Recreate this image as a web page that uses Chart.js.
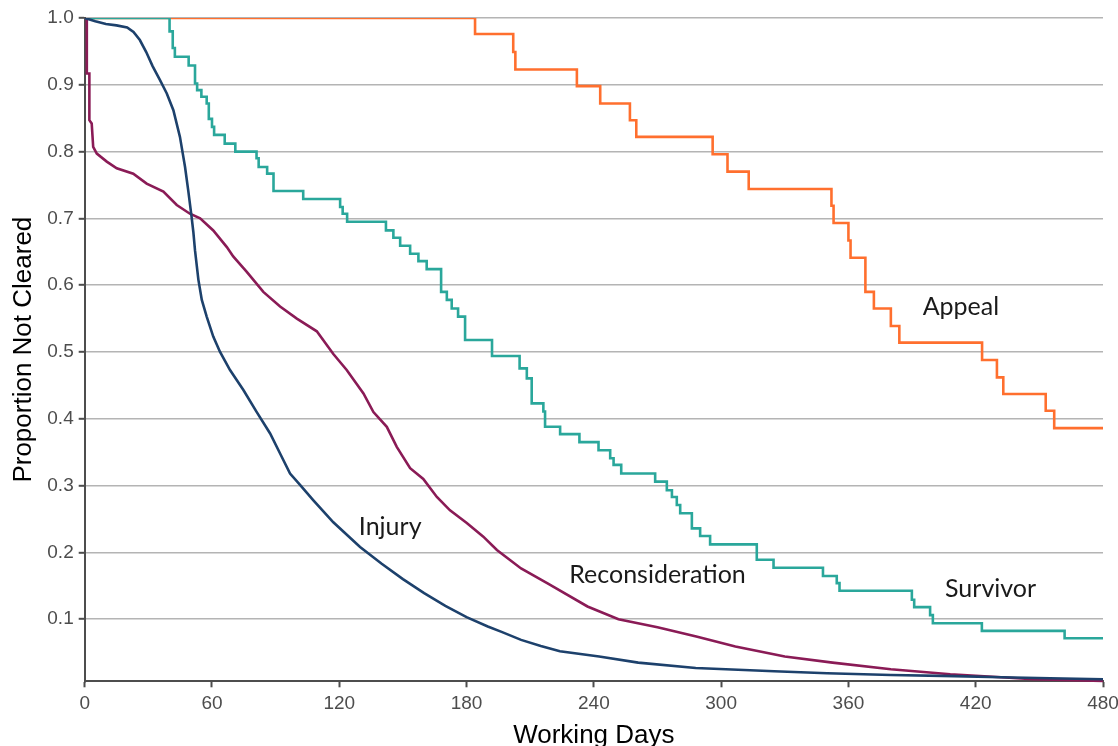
<!DOCTYPE html>
<html>
<head>
<meta charset="utf-8">
<script src="https://cdn.jsdelivr.net/npm/chart.js@4/dist/chart.umd.min.js"></script>
<style>
  html, body { margin: 0; padding: 0; background: #ffffff; }
  #wrap { width: 1118px; height: 746px; position: relative; }
</style>
</head>
<body>
<div id="wrap"><canvas id="c" width="1118" height="746"></canvas></div>
<script>
// ---- Data ----
const xTicks = [0, 60, 120, 180, 240, 300, 360, 420, 480];
const yTicks = [0.1, 0.2, 0.3, 0.4, 0.5, 0.6, 0.7, 0.8, 0.9, 1.0];

const injuryDays = [0, 5, 10, 15, 20, 23, 26, 29, 32, 35.5, 38.7, 41.8, 44.9, 47.3, 48.8, 50.4, 51.2, 52, 53.6, 55.2, 57.5, 60.6, 63.8, 68.5, 74.8, 81.1, 87.4, 92.1, 96.8, 101.5, 107.8, 117.2, 129.8, 140, 150, 160, 170, 180, 190, 196.5, 205.7, 215, 224, 242.5, 260.9, 288, 325, 350, 380, 410, 432, 455, 480];
const injuryVals = [1.0, 0.995, 0.991, 0.989, 0.986, 0.979, 0.967, 0.949, 0.928, 0.907, 0.887, 0.862, 0.822, 0.777, 0.742, 0.702, 0.68, 0.652, 0.608, 0.578, 0.553, 0.523, 0.50, 0.473, 0.443, 0.41, 0.378, 0.348, 0.318, 0.301, 0.278, 0.245, 0.208, 0.183, 0.160, 0.139, 0.120, 0.103, 0.089, 0.081, 0.069, 0.060, 0.052, 0.044, 0.035, 0.027, 0.022, 0.019, 0.0165, 0.0148, 0.013, 0.0115, 0.010];

const reconDays = [0, 1, 1, 2.2, 2.2, 3.3, 4, 5.7, 10.4, 15.1, 22.9, 29.2, 37.1, 43.4, 49.6, 54.4, 60.6, 67, 70, 76.4, 84.2, 92.1, 100, 109.4, 117.2, 123.5, 131.4, 136.1, 142.4, 147.1, 153.4, 159.6, 166, 172.2, 180.1, 187.9, 194.3, 205.7, 218.6, 237, 251.6, 270, 288.3, 306.7, 330, 352.5, 380, 408, 432, 447, 480];
const reconVals = [1.0, 1.0, 0.917, 0.917, 0.847, 0.842, 0.807, 0.797, 0.785, 0.775, 0.767, 0.752, 0.74, 0.72, 0.707, 0.70, 0.682, 0.657, 0.643, 0.62, 0.59, 0.568, 0.55, 0.531, 0.497, 0.473, 0.438, 0.41, 0.388, 0.358, 0.326, 0.310, 0.283, 0.263, 0.244, 0.2235, 0.2035, 0.176, 0.153, 0.119, 0.10, 0.088, 0.074, 0.059, 0.044, 0.035, 0.025, 0.0175, 0.013, 0.010, 0.0075];

const survivorDays = [0, 40, 41.5, 42.5, 49, 52, 53, 55, 57.5, 58.5, 60, 61, 66, 71, 81, 82, 86, 89, 103, 120.4, 121.6, 123.7, 142, 145.5, 148.7, 153.4, 157.3, 161.2, 168, 170.7, 173, 176, 179.3, 192, 205, 208.4, 210.7, 216.2, 217, 224.1, 233.2, 242.2, 247.7, 249.3, 252.9, 268.9, 274.4, 276.8, 279.1, 280.7, 286.2, 290.1, 294.8, 316.8, 324.7, 348, 354.5, 355.8, 389.9, 391, 398.5, 399.8, 422.9, 461.9, 480];
const survivorVals = [1.0, 0.98, 0.955, 0.942, 0.929, 0.902, 0.892, 0.882, 0.872, 0.849, 0.837, 0.825, 0.812, 0.80, 0.79, 0.777, 0.767, 0.741, 0.729, 0.717, 0.707, 0.695, 0.682, 0.671, 0.659, 0.647, 0.636, 0.624, 0.59, 0.578, 0.565, 0.553, 0.518, 0.494, 0.4755, 0.4605, 0.423, 0.411, 0.388, 0.377, 0.365, 0.353, 0.341, 0.331, 0.318, 0.306, 0.293, 0.283, 0.271, 0.2585, 0.236, 0.2245, 0.212, 0.189, 0.177, 0.1646, 0.154, 0.1425, 0.129, 0.118, 0.106, 0.094, 0.0825, 0.0715, 0.0715];

const appealDays = [0, 184, 202, 203, 232, 243, 257, 260, 296, 303, 313, 352, 353, 360, 361, 368, 372, 380, 384, 423, 430, 433, 453, 457, 480];
const appealVals = [1.0, 0.976, 0.949, 0.923, 0.898, 0.872, 0.847, 0.822, 0.796, 0.770, 0.744, 0.719, 0.693, 0.667, 0.641, 0.590, 0.565, 0.539, 0.514, 0.488, 0.462, 0.437, 0.412, 0.386, 0.386];

const seriesNames = ['Injury', 'Reconsideration', 'Survivor', 'Appeal'];
// label anchor positions (data units)
const labelDays = [144, 270, 427, 413];
const labelVals = [0.238, 0.166, 0.145, 0.567];

// ---- Build ----
const toXY = (xs, ys) => xs.map((x, i) => ({ x: x, y: ys[i] }));
const colors = { Injury: '#1d416c', Reconsideration: '#8a1b56', Survivor: '#2aa79b', Appeal: '#ff6f2e' };

const lineClip = { left: 3, top: 0, right: 3, bottom: 3 };

const labelPlugin = {
  id: 'seriesLabels',
  afterDatasetsDraw(chart) {
    const { ctx, scales } = chart;
    ctx.save();
    ctx.font = '25px Lato, "Open Sans", sans-serif';
    ctx.fillStyle = '#1a1a1a';
    ctx.textAlign = 'center';
    ctx.textBaseline = 'middle';
    seriesNames.forEach((n, i) => {
      ctx.fillText(n, scales.x.getPixelForValue(labelDays[i]), scales.y.getPixelForValue(labelVals[i]));
    });
    // axis titles
    const ca = chart.chartArea;
    ctx.font = '26px "Liberation Sans", Arial, sans-serif';
    ctx.fillStyle = '#000000';
    ctx.textBaseline = 'alphabetic';
    ctx.fillText('Working Days', (ca.left + ca.right) / 2, 743);
    ctx.translate(31, (ca.top + ca.bottom) / 2);
    ctx.rotate(-Math.PI / 2);
    ctx.fillText('Proportion Not Cleared', 0, 0);
    ctx.restore();
  }
};

new Chart(document.getElementById('c'), {
  type: 'line',
  data: {
    datasets: [
      { label: 'Injury', data: toXY(injuryDays, injuryVals), borderColor: colors.Injury, borderWidth: 2.6, pointRadius: 0, tension: 0, clip: lineClip },
      { label: 'Reconsideration', data: toXY(reconDays, reconVals), borderColor: colors.Reconsideration, borderWidth: 2.6, pointRadius: 0, tension: 0, clip: lineClip },
      { label: 'Survivor', data: toXY(survivorDays, survivorVals), borderColor: colors.Survivor, borderWidth: 2.6, pointRadius: 0, stepped: true, clip: lineClip },
      { label: 'Appeal', data: toXY(appealDays, appealVals), borderColor: colors.Appeal, borderWidth: 2.6, pointRadius: 0, stepped: true, clip: lineClip }
    ]
  },
  options: {
    responsive: false,
    animation: false,
    events: [],
    layout: { padding: { top: 18, right: 15, left: 0, bottom: 0 } },
    plugins: { legend: { display: false }, tooltip: { enabled: false } },
    scales: {
      x: {
        type: 'linear',
        min: 0, max: 480,
        afterBuildTicks(scale) { scale.ticks = xTicks.map(v => ({ value: v })); },
        afterFit(scale) { scale.height = 64.7; scale.paddingLeft = 0; scale.paddingRight = 0; },
        grid: { drawOnChartArea: false, drawTicks: true, tickLength: 6, tickColor: '#4d4d4d', tickWidth: 2 },
        border: { color: '#4d4d4d', width: 2 },
        ticks: { color: '#4d4d4d', font: { size: 19, family: '"Liberation Sans", Arial, sans-serif' }, padding: 5, maxRotation: 0, autoSkip: false, callback: v => String(v) }
      },
      y: {
        type: 'linear',
        min: 0.007, max: 1.0,
        afterBuildTicks(scale) { scale.ticks = yTicks.map(v => ({ value: v })); },
        afterFit(scale) { scale.width = 84.7; scale.paddingTop = 0; scale.paddingBottom = 0; },
        grid: { color: '#b4b4b4', lineWidth: 1.6, drawTicks: true, tickLength: 6, tickColor: '#4d4d4d', tickWidth: 2 },
        border: { color: '#4d4d4d', width: 2 },
        ticks: { color: '#4d4d4d', font: { size: 19, family: '"Liberation Sans", Arial, sans-serif' }, padding: 5, autoSkip: false, callback: v => Number(v).toFixed(1) }
      }
    }
  },
  plugins: [labelPlugin]
});
</script>
</body>
</html>
